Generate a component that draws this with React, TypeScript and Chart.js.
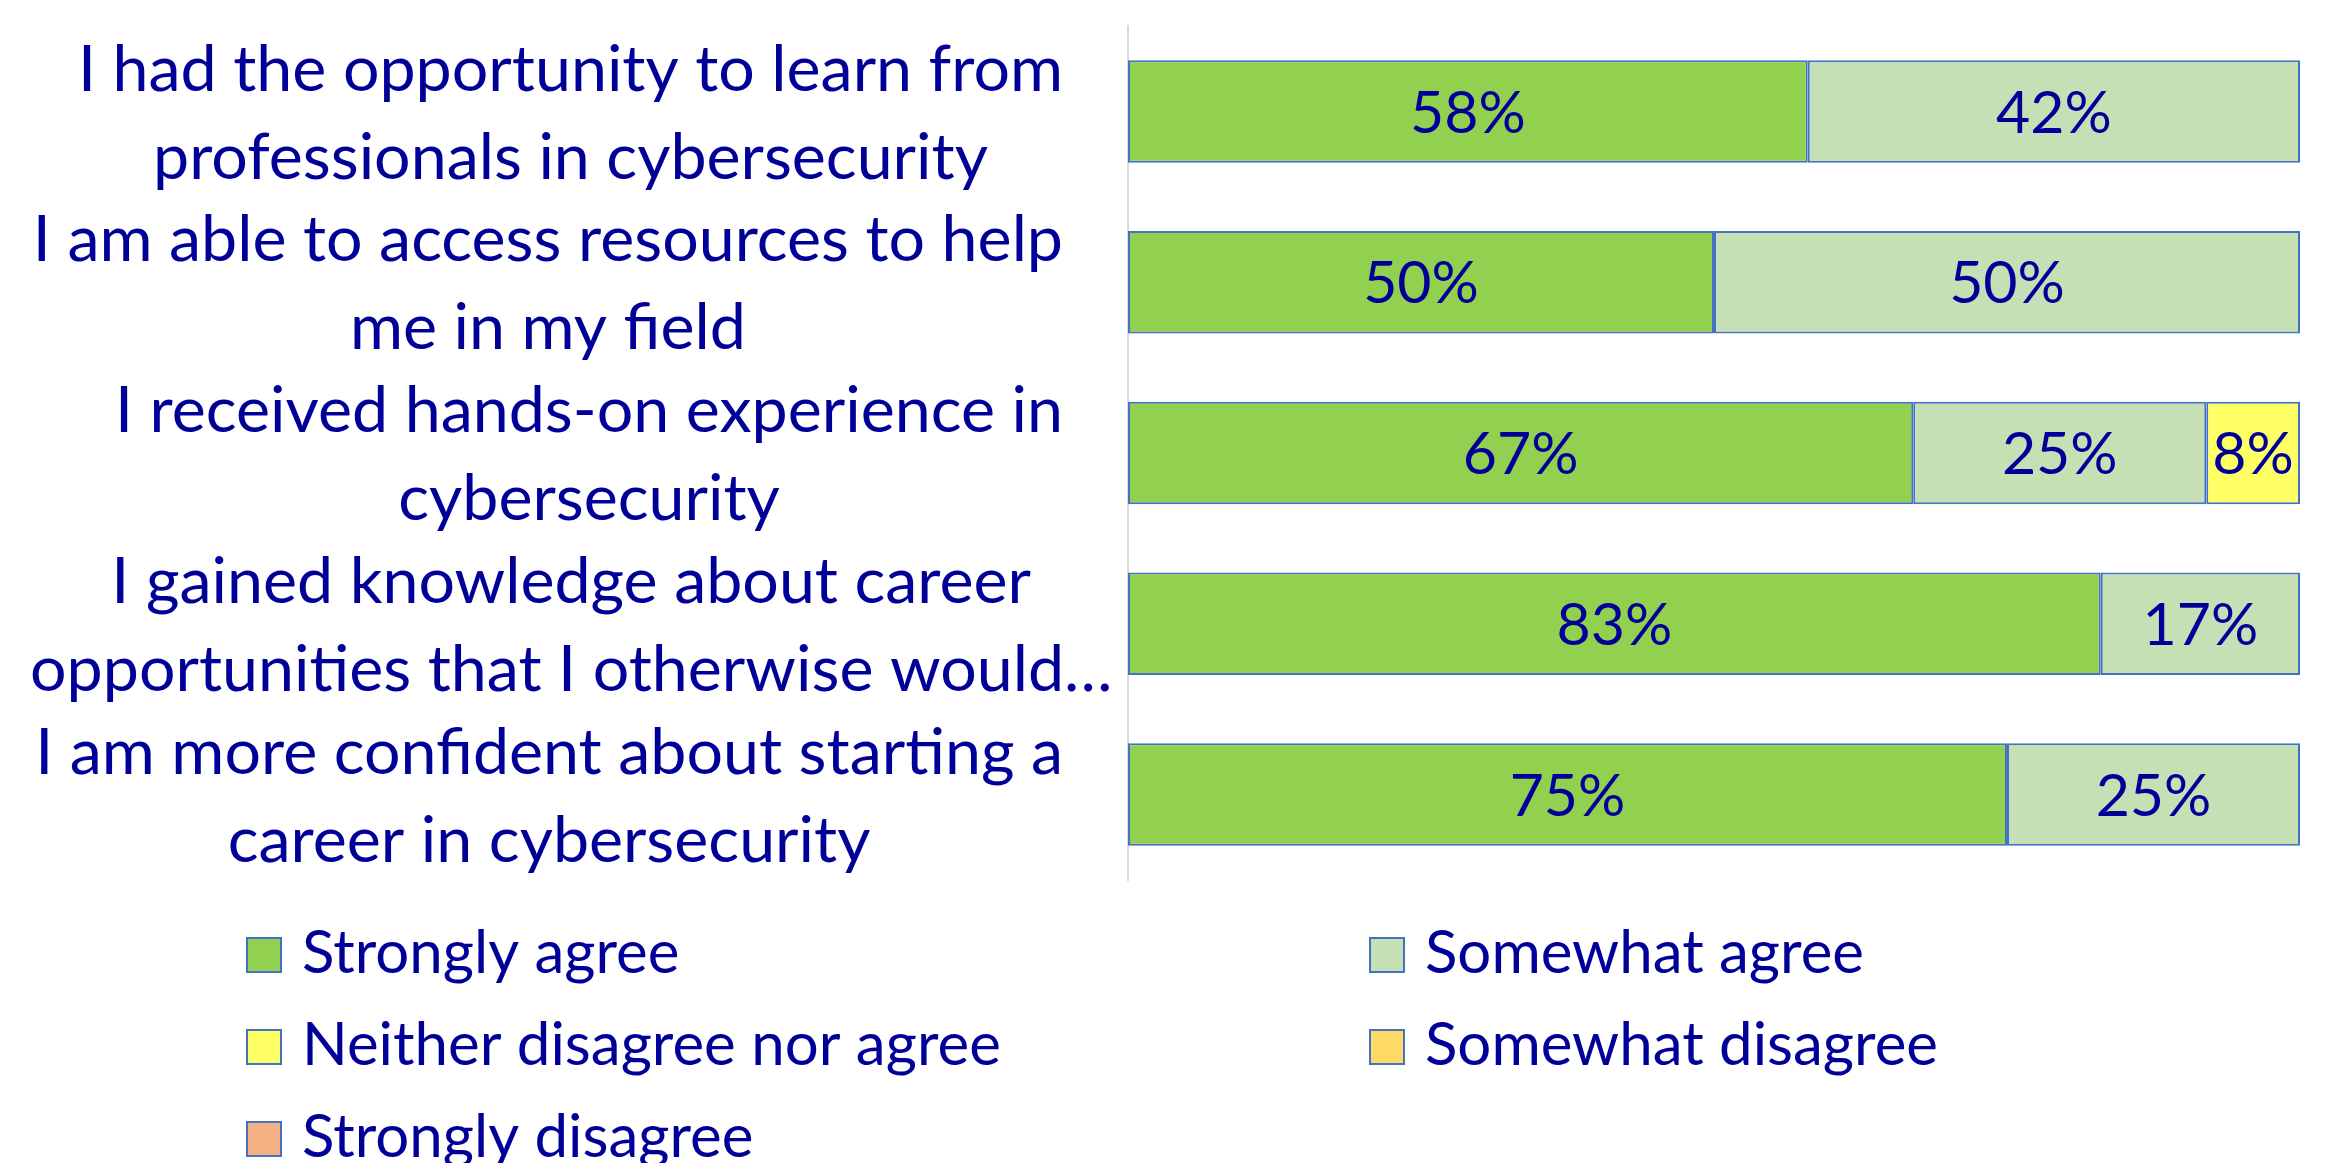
import React, { useEffect, useRef } from 'react';
import { Chart, registerables } from 'chart.js';

Chart.register(...registerables);

const categories: string[][] = [
  ['I had the opportunity to learn from', 'professionals in cybersecurity'],
  ['I am able to access resources to help', 'me in my field'],
  ['I received hands-on experience in', 'cybersecurity'],
  ['I gained knowledge about career', 'opportunities that I otherwise would…'],
  ['I am more confident about starting a', 'career in cybersecurity'],
];

const seriesNames = [
  'Strongly agree',
  'Somewhat agree',
  'Neither disagree nor agree',
  'Somewhat disagree',
  'Strongly disagree',
];

const stronglyAgree = [58, 50, 67, 83, 75];
const somewhatAgree = [42, 50, 25, 17, 25];
const neitherAgree = [null, null, 8, null, null];
const somewhatDisagree = [null, null, null, null, null];
const stronglyDisagree = [null, null, null, null, null];

const seriesColors = ['#92D050', '#C5E0B4', '#FFFF66', '#FFD966', '#F4B183'];

const TEXT_COLOR = '#000099';
const BORDER_BLUE = '#4472C4';
const FONT_FAMILY = 'Lato, "Open Sans", sans-serif';

const W = 2328;
const H = 1163;

const yLabelsPlugin = {
  id: 'yLabels',
  afterDraw(chart: any) {
    const ctx = chart.ctx;
    const yScale = chart.scales.y;
    const labels = chart.data.labels as string[][];
    const fontSize = 64.5;
    const capH = fontSize * 0.7165;
    const lineH = 88;
    const R = 1063;
    const L = 30;
    ctx.save();
    ctx.font = `${fontSize}px ${FONT_FAMILY}`;
    ctx.fillStyle = TEXT_COLOR;
    ctx.textAlign = 'center';
    ctx.textBaseline = 'alphabetic';
    labels.forEach((lines, i) => {
      const y = yScale.getPixelForValue(i);
      const w = Math.max(...lines.map((l) => ctx.measureText(l).width));
      const cx = Math.max(R - w / 2, L + w / 2);
      lines.forEach((line, k) => {
        const ly = y + (k - (lines.length - 1) / 2) * lineH + capH / 2;
        ctx.fillText(line, cx, ly);
      });
    });
    ctx.restore();
  },
};

const dataLabelsPlugin = {
  id: 'dataLabels',
  afterDatasetsDraw(chart: any) {
    const ctx = chart.ctx;
    const fontSize = 59;
    const capH = fontSize * 0.7165;
    ctx.save();
    ctx.font = `${fontSize}px ${FONT_FAMILY}`;
    ctx.fillStyle = TEXT_COLOR;
    ctx.textAlign = 'center';
    ctx.textBaseline = 'alphabetic';
    chart.data.datasets.forEach((ds: any, i: number) => {
      const meta = chart.getDatasetMeta(i);
      meta.data.forEach((el: any, j: number) => {
        const v = ds.data[j];
        if (v === null || v === undefined) return;
        const p = el.getProps(['x', 'y', 'base'], true);
        ctx.fillText(`${v}%`, (p.x + p.base) / 2, p.y + capH / 2);
      });
    });
    ctx.restore();
  },
};

const legendPlugin = {
  id: 'gridLegend',
  afterDraw(chart: any) {
    const ctx = chart.ctx;
    const fontSize = 60;
    const colX = [246, 1369];
    const rowTop = 937;
    const rowStep = 92;
    const box = 36;
    ctx.save();
    ctx.font = `${fontSize}px ${FONT_FAMILY}`;
    ctx.textAlign = 'left';
    ctx.textBaseline = 'alphabetic';
    chart.data.datasets.forEach((ds: any, i: number) => {
      const col = i % 2;
      const row = Math.floor(i / 2);
      const bx = colX[col];
      const by = rowTop + row * rowStep;
      ctx.fillStyle = ds.backgroundColor;
      ctx.fillRect(bx, by, box, box);
      ctx.strokeStyle = BORDER_BLUE;
      ctx.lineWidth = 2;
      ctx.strokeRect(bx + 1, by + 1, box - 2, box - 2);
      ctx.fillStyle = TEXT_COLOR;
      ctx.fillText(ds.label, bx + 56, by + box);
    });
    ctx.restore();
  },
};

export default function App() {
  const canvasRef = useRef<HTMLCanvasElement | null>(null);

  useEffect(() => {
    const canvas = canvasRef.current;
    if (!canvas) return;
    const seriesData = [stronglyAgree, somewhatAgree, neitherAgree, somewhatDisagree, stronglyDisagree];
    const chart = new Chart(canvas, {
      type: 'bar',
      data: {
        labels: categories as any,
        datasets: seriesNames.map((name, i) => ({
          label: name,
          data: seriesData[i] as any,
          backgroundColor: seriesColors[i],
          borderColor: BORDER_BLUE,
          borderWidth: 2,
          borderSkipped: false,
          categoryPercentage: 0.6,
          barPercentage: 1,
        })),
      },
      options: {
        indexAxis: 'y',
        responsive: false,
        animation: false,
        devicePixelRatio: 1,
        layout: { padding: { top: 26, bottom: 283, right: 28, left: 0 } },
        plugins: {
          legend: { display: false },
          tooltip: { enabled: false },
        },
        scales: {
          x: { stacked: true, min: 0, max: 100, display: false },
          y: {
            stacked: true,
            grid: { display: false },
            border: { display: true, color: '#D9D9D9', width: 2 },
            ticks: { display: false },
            afterFit: (s: any) => {
              s.width = 1128;
            },
          },
        },
      },
      plugins: [dataLabelsPlugin, yLabelsPlugin, legendPlugin],
    });
    return () => chart.destroy();
  }, []);

  return (
    <div style={{ position: 'fixed', left: 0, top: 0, width: W, height: H, background: '#fff' }}>
      <canvas ref={canvasRef} width={W} height={H} style={{ display: 'block' }} />
    </div>
  );
}
